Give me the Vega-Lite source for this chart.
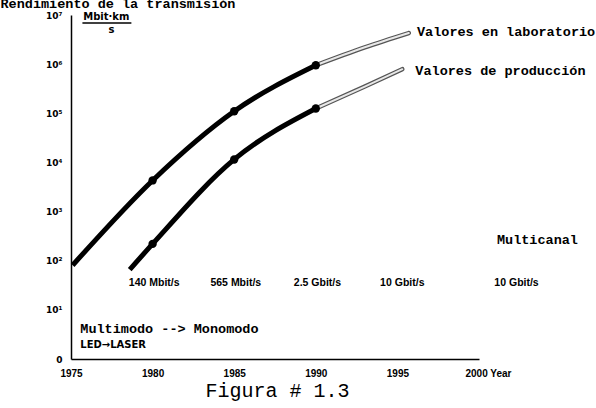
{
  "$schema": "https://vega.github.io/schema/vega-lite/v6.json",
  "width": 408,
  "height": 344,
  "autosize": "none",
  "padding": {"left": 71, "top": 15, "right": 117, "bottom": 49},
  "background": "white",
  "config": {"view": {"stroke": null}},
  "datasets": {
    "curves": [
      {"series": "lab", "seg": "solid", "year": 1975.1, "value": 81},
      {"series": "lab", "seg": "solid", "year": 1980, "value": 4300},
      {"series": "lab", "seg": "solid", "year": 1985, "value": 110000},
      {"series": "lab", "seg": "solid", "year": 1990, "value": 950000},
      {"series": "lab", "seg": "ext", "year": 1990, "value": 950000},
      {"series": "lab", "seg": "ext", "year": 1993, "value": 2200000},
      {"series": "lab", "seg": "ext", "year": 1995.7, "value": 4300000},
      {"series": "prod", "seg": "solid", "year": 1978.6, "value": 66},
      {"series": "prod", "seg": "solid", "year": 1980, "value": 220},
      {"series": "prod", "seg": "solid", "year": 1985, "value": 11500},
      {"series": "prod", "seg": "solid", "year": 1990, "value": 125000},
      {"series": "prod", "seg": "ext", "year": 1990, "value": 125000},
      {"series": "prod", "seg": "ext", "year": 1993, "value": 350000},
      {"series": "prod", "seg": "ext", "year": 1995.3, "value": 790000}
    ],
    "yticks": [{"v": 1}, {"v": 10}, {"v": 100}, {"v": 1000}, {"v": 10000}, {"v": 100000}, {"v": 1000000}, {"v": 10000000}],
    "xticks": [{"yr": 1975}, {"yr": 1980}, {"yr": 1985}, {"yr": 1990}, {"yr": 1995}, {"yr": 2000}],
    "monoLabels": [
      {"text": "Valores en laboratorio", "year": 1996.2, "value": 4500000},
      {"text": "Valores de producción", "year": 1996.1, "value": 720000},
      {"text": "Multicanal", "year": 2001.1, "value": 265},
      {"text": "Multimodo --> Monomodo", "year": 1975.57, "value": 4.1}
    ],
    "rates": [
      {"text": "140 Mbit/s", "year": 1980.1, "value": 35},
      {"text": "565 Mbit/s", "year": 1985.1, "value": 35},
      {"text": "2.5 Gbit/s", "year": 1990.1, "value": 35},
      {"text": "10 Gbit/s", "year": 1995.3, "value": 35},
      {"text": "10 Gbit/s", "year": 2002.3, "value": 35}
    ],
    "sansLabels": [
      {"text": "LED→LASER", "year": 1975.57, "value": 1.93},
      {"text": "Mbit·km", "year": 1975.75, "value": 9100000},
      {"text": "s", "year": 1977.3, "value": 4950000}
    ],
    "unitBar": [{"x1": 1975.7, "x2": 1978.7, "value": 6900000}]
  },
  "encoding": {
    "x": {
      "field": "year", "type": "quantitative",
      "scale": {"domain": [1975, 2000], "nice": false, "zero": false},
      "axis": {
        "values": [1975, 1980, 1985, 1990, 1995, 2000],
        "format": "d",
        "labelExpr": "datum.value == 2000 ? '2000 Year' : datum.label",
        "labelAlign": {"condition": {"test": "datum.value == 2000", "value": "left"}, "value": "center"},
        "labelOffset": {"condition": {"test": "datum.value == 2000", "value": -14}, "value": 0},
        "ticks": false, "grid": false,
        "domainColor": "black", "domainWidth": 1.5,
        "labelFont": "Liberation Sans", "labelFontWeight": "bold", "labelFontSize": 10, "labelColor": "black",
        "labelPadding": 9,
        "title": "Figura # 1.3",
        "titleFont": "Liberation Mono", "titleFontWeight": "normal", "titleFontSize": 20, "titleColor": "black",
        "titleX": 206, "titleY": 37, "titleAlign": "center", "titleBaseline": "alphabetic", "titleAnchor": null
      }
    },
    "y": {
      "field": "value", "type": "quantitative",
      "scale": {"type": "log", "domain": [1, 10000000], "nice": false},
      "axis": {
        "values": [1, 10, 100, 1000, 10000, 100000, 1000000, 10000000],
        "labelExpr": "['0','10¹','10²','10³','10⁴','10⁵','10⁶','10⁷'][round(log(datum.value)/LN10)]",
        "ticks": false, "grid": false,
        "domainColor": "black", "domainWidth": 1.5,
        "labelFont": "DejaVu Sans", "labelFontWeight": "bold", "labelFontSize": 9, "labelColor": "black",
        "labelPadding": 9,
        "title": "Rendimiento de la transmisión",
        "titleFont": "Liberation Mono", "titleFontWeight": "bold", "titleFontSize": 13.5, "titleColor": "black",
        "titleAngle": 0, "titleAlign": "left", "titleBaseline": "alphabetic",
        "titleX": -71, "titleY": -8, "titleAnchor": null
      }
    }
  },
  "layer": [
    {
      "data": {"name": "yticks"},
      "mark": {"type": "tick", "orient": "horizontal", "size": 12, "thickness": 1.5, "color": "black"},
      "encoding": {"x": {"datum": 1975, "type": "quantitative"}, "y": {"field": "v", "type": "quantitative"}}
    },
    {
      "data": {"name": "xticks"},
      "mark": {"type": "tick", "orient": "vertical", "size": 10, "thickness": 1.5},
      "encoding": {
        "x": {"field": "yr", "type": "quantitative"},
        "y": {"datum": 1, "type": "quantitative"},
        "color": {"condition": {"test": "datum.yr == 1980 || datum.yr == 1985", "value": "#bbbbbb"}, "value": "black"}
      }
    },
    {
      "data": {"name": "curves"},
      "transform": [{"filter": "datum.seg == 'ext'"}],
      "mark": {"type": "line", "interpolate": "monotone", "color": "#555555", "strokeWidth": 4.5, "strokeCap": "round"},
      "encoding": {"detail": {"field": "series"}}
    },
    {
      "data": {"name": "curves"},
      "transform": [{"filter": "datum.seg == 'ext'"}],
      "mark": {"type": "line", "interpolate": "monotone", "color": "#e8e8e8", "strokeWidth": 2, "strokeCap": "round"},
      "encoding": {"detail": {"field": "series"}}
    },
    {
      "data": {"name": "curves"},
      "transform": [{"filter": "datum.seg == 'solid'"}],
      "mark": {"type": "line", "interpolate": "monotone", "color": "black", "strokeWidth": 5},
      "encoding": {"detail": {"field": "series"}}
    },
    {
      "data": {"name": "curves"},
      "transform": [{"filter": "datum.seg == 'solid' && datum.year % 5 == 0"}],
      "mark": {"type": "point", "filled": true, "color": "black", "size": 70, "opacity": 1},
      "encoding": {}
    },
    {
      "data": {"name": "monoLabels"},
      "mark": {"type": "text", "align": "left", "baseline": "middle", "font": "Liberation Mono", "fontWeight": "bold", "fontSize": 13.5, "color": "black"},
      "encoding": {"text": {"field": "text"}}
    },
    {
      "data": {"name": "rates"},
      "mark": {"type": "text", "align": "center", "baseline": "middle", "font": "Liberation Sans", "fontWeight": "bold", "fontSize": 10.5, "color": "black"},
      "encoding": {"text": {"field": "text"}}
    },
    {
      "data": {"name": "sansLabels"},
      "mark": {"type": "text", "align": "left", "baseline": "middle", "font": "DejaVu Sans", "fontWeight": "bold", "fontSize": 10, "color": "black"},
      "encoding": {"text": {"field": "text"}}
    },
    {
      "data": {"name": "unitBar"},
      "mark": {"type": "rule", "color": "black", "strokeWidth": 1.5},
      "encoding": {"x": {"field": "x1", "type": "quantitative"}, "x2": {"field": "x2"}, "y": {"field": "value", "type": "quantitative"}}
    }
  ]
}
